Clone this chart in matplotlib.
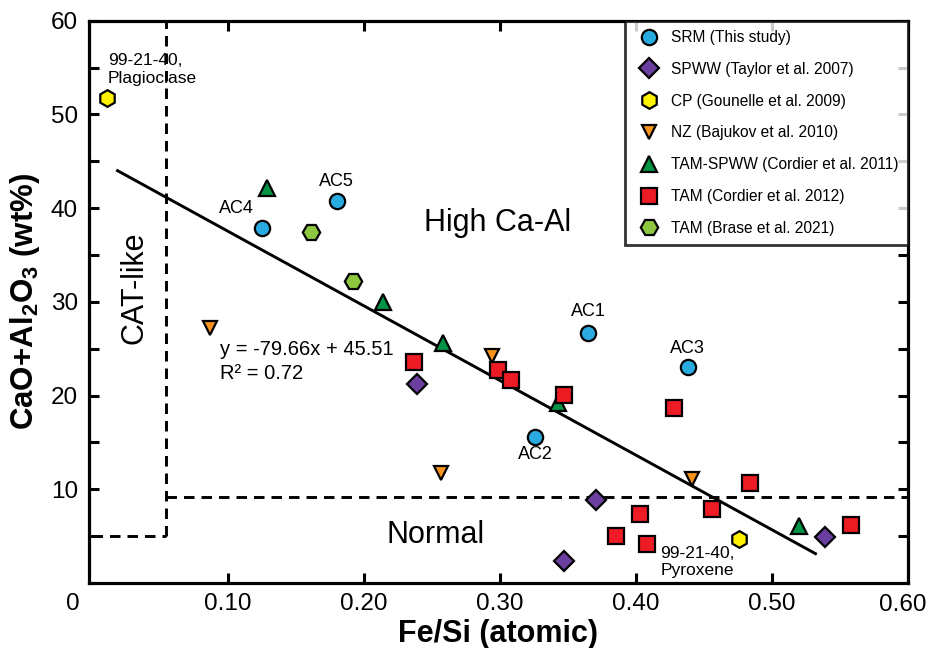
import matplotlib
matplotlib.use("Agg")
import matplotlib.pyplot as plt
import numpy as np

plt.rcParams['font.family'] = ['Liberation Sans', 'DejaVu Sans']
plt.rcParams['mathtext.default'] = 'regular'

# ---- data -------------------------------------------------------------
srm_x = [0.125, 0.180, 0.365, 0.438, 0.326]
srm_y = [37.9, 40.8, 26.7, 23.1, 15.6]
srm_names = ["AC4", "AC5", "AC1", "AC3", "AC2"]

spww_x = [0.239, 0.347, 0.371, 0.539]
spww_y = [21.2, 2.3, 8.9, 4.9]

cp_x = [0.011, 0.476]
cp_y = [51.8, 4.7]

nz_x = [0.087, 0.257, 0.294, 0.441]
nz_y = [27.2, 11.7, 24.2, 11.1]

tamspww_x = [0.129, 0.214, 0.258, 0.343, 0.520]
tamspww_y = [42.1, 30.0, 25.6, 19.2, 6.1]

tam12_x = [0.237, 0.299, 0.308, 0.347, 0.428, 0.484, 0.403, 0.456, 0.385, 0.408, 0.558]
tam12_y = [23.6, 22.7, 21.7, 20.1, 18.7, 10.7, 7.4, 7.9, 5.0, 4.2, 6.2]

brase_x = [0.161, 0.192]
brase_y = [37.4, 32.2]

fit_slope = -79.66
fit_intercept = 45.51
fit_r2 = 0.72
fit_x = [0.019, 0.532]

cat_fe_si = 0.0544      # Fe/Si boundary of the CAT-like field
cat_low = 5.0           # CaO+Al2O3 floor of the CAT-like field
normal_high = 9.2       # upper limit of the normal field

x_ticks = [0.1, 0.2, 0.3, 0.4, 0.5, 0.6]
x_ticklabels = ["0.10", "0.20", "0.30", "0.40", "0.50", "0.60"]
y_ticks = [5, 10, 15, 20, 25, 30, 35, 40, 45, 50, 55, 60]

# ---- figure -----------------------------------------------------------
fig = plt.figure(figsize=(9.29, 6.48), dpi=100)
ax = fig.add_axes([89 / 929, 65 / 648, 819 / 929, 562.3 / 648])
ax.set_xlim(-0.002, 0.599)
ax.set_ylim(0, 60)

edge = dict(markeredgecolor='black', markeredgewidth=1.6, linestyle='none')
series = [
    (srm_x, srm_y, 'o', 11.0, '#29ABE2', 'SRM (This study)'),
    (spww_x, spww_y, 'D', 10.5, '#6B3FA0', 'SPWW (Taylor et al. 2007)'),
    (cp_x, cp_y, 'h', 12.0, '#FFF200', 'CP (Gounelle et al. 2009)'),
    (nz_x, nz_y, 'v', 10.5, '#F7941D', 'NZ (Bajukov et al. 2010)'),
    (tamspww_x, tamspww_y, '^', 11.0, '#009444', 'TAM-SPWW (Cordier et al. 2011)'),
    (tam12_x, tam12_y, 's', 11.5, '#ED1C24', 'TAM (Cordier et al. 2012)'),
    (brase_x, brase_y, 'H', 12.5, '#8DC63F', 'TAM (Brase et al. 2021)'),
]
for i, (xs, ys, mk, ms, col, lab) in enumerate(series):
    ax.plot(xs, ys, marker=mk, markersize=ms, markerfacecolor=col,
            label=lab, zorder=5 + i, **edge)

# regression line
fx = np.array(fit_x)
ax.plot(fx, fit_slope * fx + fit_intercept, color='black', lw=2.1, zorder=4)
ax.text(0.094, 23.6, f"y = {fit_slope:.2f}x + {fit_intercept:.2f}\nR² = {fit_r2:.2f}",
        fontsize=14.5, ha='left', va='center', linespacing=1.35)

# field boundaries
dash = dict(color='black', lw=2.1, linestyle=(0, (3.6, 2.4)), zorder=3)
ax.plot([0, cat_fe_si], [cat_low, cat_low], **dash)
ax.plot([cat_fe_si, cat_fe_si], [cat_low, 60], **dash)
ax.plot([cat_fe_si, 0.599], [normal_high, normal_high], **dash)

# field names
ax.text(0.2985, 38.4, "High Ca-Al", fontsize=22, ha='center', va='center')
ax.text(0.2525, 5.1, "Normal", fontsize=22, ha='center', va='center')
ax.text(0.0315, 31.5, "CAT-like", fontsize=22, ha='center', va='center', rotation=90)

# sample labels
offsets = {"AC4": (-25, 19), "AC5": (0, 19), "AC1": (0, 21), "AC3": (0, 18), "AC2": (0, -18)}
for x, y, name in zip(srm_x, srm_y, srm_names):
    ax.annotate(name, (x, y), xytext=offsets[name], textcoords='offset pixels',
                ha='center', va='center', fontsize=13)
ax.annotate("99-21-40,\nPlagioclase", (cp_x[0], cp_y[0]), xytext=(1, 28),
            textcoords='offset pixels', ha='left', va='center', fontsize=12.5,
            linespacing=1.18)
ax.annotate("99-21-40,\nPyroxene", (cp_x[1], cp_y[1]), xytext=(-79, -23),
            textcoords='offset pixels', ha='left', va='center', fontsize=12.5,
            linespacing=1.18)

# axes styling
for s in ax.spines.values():
    s.set_linewidth(2.3)
ax.set_xticks(x_ticks)
ax.set_xticklabels(x_ticklabels[:-1] + [""])
ax.set_yticks(y_ticks)
ax.set_yticklabels([str(v) if v % 10 == 0 else "" for v in y_ticks])
ax.tick_params(direction='in', length=7.5, width=2.2, labelsize=17.5,
               top=True, right=True)
ax.tick_params(axis='x', pad=7)
ax.tick_params(axis='y', pad=8)
# corner origin label and the last x label nudged inside the canvas
ax.text(-0.0195, -0.037, "0", transform=ax.transAxes, fontsize=17.5,
        ha='center', va='center')
ax.annotate(x_ticklabels[-1], xy=(x_ticks[-1], 0), xycoords=('data', 'axes fraction'),
            xytext=(-5, -22), textcoords='offset pixels', fontsize=17.5,
            ha='center', va='center', annotation_clip=False)

ax.set_xlabel("Fe/Si (atomic)", fontsize=22, fontweight='bold', labelpad=3)
ax.set_ylabel("CaO+Al$_2$O$_3$ (wt%)", fontsize=22.5, fontweight='bold', labelpad=6)

leg = ax.legend(loc='upper right', bbox_to_anchor=(1, 1), borderaxespad=0,
                fontsize=11.2, frameon=True, fancybox=False, edgecolor='black',
                labelspacing=1.08, handletextpad=0.5, borderpad=0.6,
                handlelength=1.9)
leg.get_frame().set_linewidth(2.0)
leg.set_zorder(20)

fig.savefig("out.png", dpi=100)
